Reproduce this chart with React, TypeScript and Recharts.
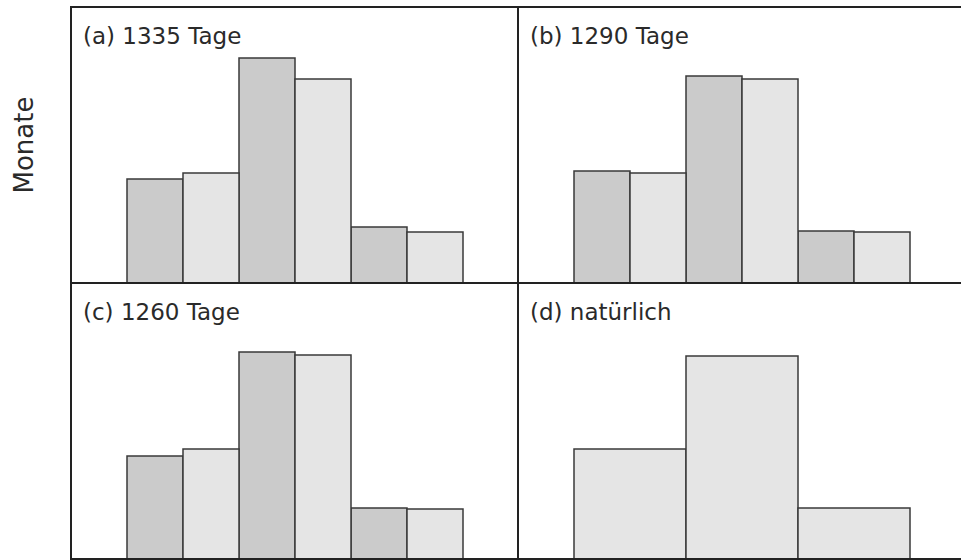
import { Bar, BarChart, XAxis, YAxis } from "recharts";

// month-length classes (not labelled in the figure)
const classes = ["kurz", "mittel", "lang"];

// dark bars: calendar variant, light bars: natural distribution
const kalender1335 = [10.4, 22.5, 5.6];
const natur1335 = [11.0, 20.4, 5.1];
const kalender1290 = [11.2, 20.7, 5.2];
const natur1290 = [11.0, 20.4, 5.1];
const kalender1260 = [10.3, 20.7, 5.1];
const natur1260 = [11.0, 20.4, 5.0];
const natuerlich = [11.0, 20.3, 5.1];

const titles = ["(a) 1335 Tage", "(b) 1290 Tage", "(c) 1260 Tage", "(d) natürlich"];

const Y_MAX = 27.6;
const PANEL_W = 448;
const PANEL_H = 276;
const DARK = "#cbcbcb";
const LIGHT = "#e5e5e5";
const EDGE = "#3a3a3a";
const FONT = "'DejaVu Sans', sans-serif";

function Panel({
  left,
  top,
  dark,
  light,
}: {
  left: number;
  top: number;
  dark?: number[];
  light: number[];
}) {
  const data = classes.map((c, i) => ({
    name: c,
    dark: dark ? dark[i] : undefined,
    light: light[i],
  }));
  return (
    <div style={{ position: "absolute", left, top, width: PANEL_W, height: PANEL_H }}>
      <BarChart
        width={PANEL_W}
        height={PANEL_H}
        data={data}
        margin={{ top: 0, right: 0, bottom: 0, left: 0 }}
        barCategoryGap={0}
        barGap={0}
      >
        <XAxis dataKey="name" hide padding={{ left: 56, right: 56 }} />
        <YAxis hide domain={[0, Y_MAX]} />
        {dark ? (
          <Bar
            dataKey="dark"
            fill={DARK}
            stroke={EDGE}
            strokeWidth={1.5}
            isAnimationActive={false}
          />
        ) : null}
        <Bar
          dataKey="light"
          fill={LIGHT}
          stroke={EDGE}
          strokeWidth={1.5}
          isAnimationActive={false}
        />
      </BarChart>
    </div>
  );
}

export default function App() {
  return (
    <div
      style={{
        position: "absolute",
        left: 0,
        top: 0,
        width: 961,
        height: 560,
        overflow: "hidden",
        background: "#fff",
      }}
    >
      <Panel left={71} top={7} dark={kalender1335} light={natur1335} />
      <Panel left={518} top={7} dark={kalender1290} light={natur1290} />
      <Panel left={71} top={283} dark={kalender1260} light={natur1260} />
      <Panel left={518} top={283} light={natuerlich} />
      <svg
        width={961}
        height={560}
        style={{ position: "absolute", left: 0, top: 0, pointerEvents: "none" }}
      >
        <g stroke="#222" strokeWidth={2} fill="none">
          <line x1={71} y1={7} x2={961} y2={7} />
          <line x1={71} y1={283} x2={961} y2={283} />
          <line x1={71} y1={559} x2={961} y2={559} />
          <line x1={71} y1={6} x2={71} y2={560} />
          <line x1={518} y1={6} x2={518} y2={560} />
        </g>
        <g fontFamily={FONT} fontSize={23} fill="#2a2a2a">
          <text x={83} y={44}>{titles[0]}</text>
          <text x={530} y={44}>{titles[1]}</text>
          <text x={83} y={320}>{titles[2]}</text>
          <text x={530} y={320}>{titles[3]}</text>
        </g>
        <text
          transform="translate(33,145) rotate(-90)"
          textAnchor="middle"
          fontFamily={FONT}
          fontSize={26}
          fill="#2a2a2a"
        >
          Monate
        </text>
      </svg>
    </div>
  );
}
